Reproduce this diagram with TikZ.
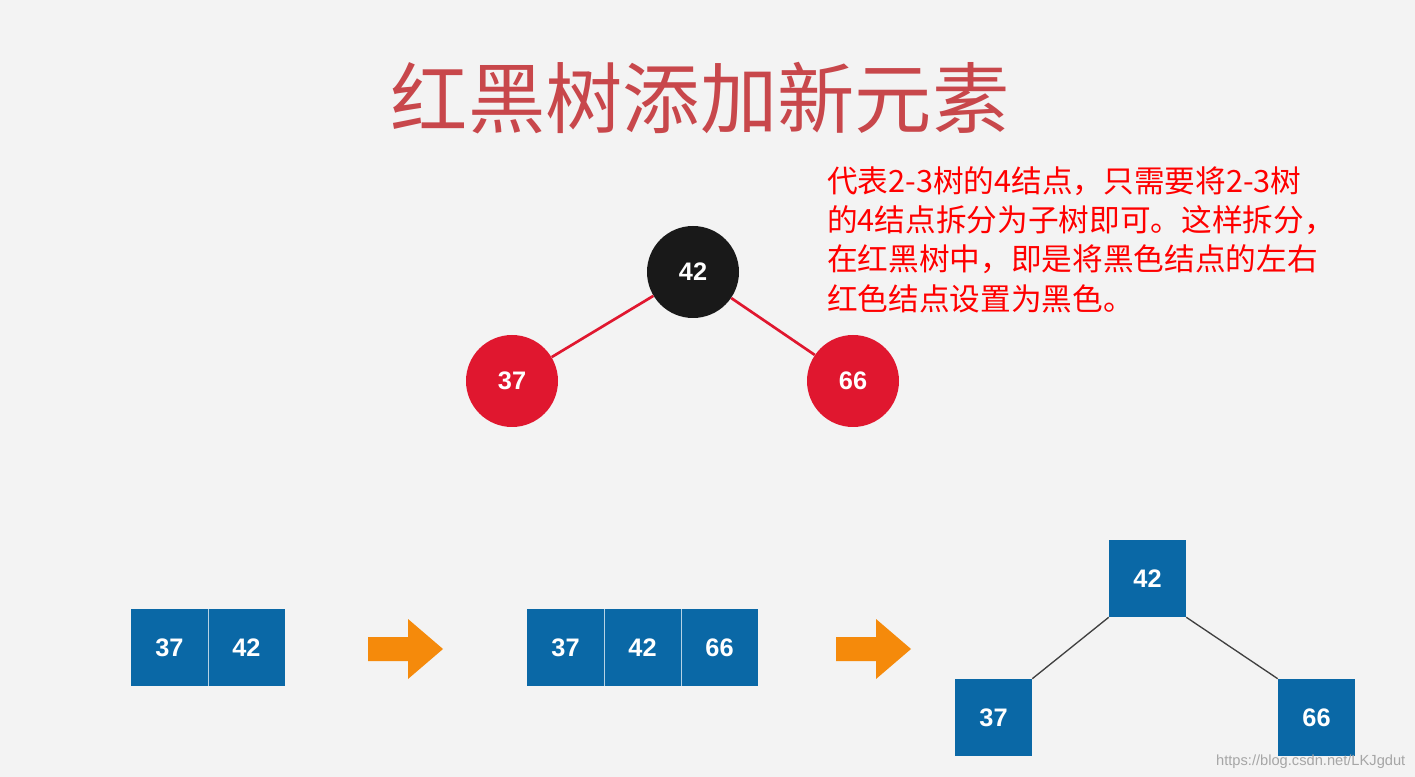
\documentclass[tikz,border=0pt]{standalone}
\usepackage{fontspec}
\setmainfont{Liberation Sans}
\newfontfamily\cjk{Noto Sans CJK SC}
\definecolor{bg}{HTML}{F3F3F3}
\definecolor{ttl}{HTML}{C8474B}
\definecolor{rb}{HTML}{E0172F}
\definecolor{bx}{HTML}{0A68A6}
\definecolor{org}{HTML}{F58A0B}
\tikzset{
 circ/.style={circle,minimum size=69pt,inner sep=0pt,text=white,font=\bfseries\fontsize{19}{19}\selectfont},
 blk/.style={fill=bx,minimum size=57.75pt,inner sep=0pt,text=white,font=\bfseries\fontsize{19}{19}\selectfont},
 arr/.style={fill=org,draw=none}
}
\begin{document}
\begin{tikzpicture}[x=0.75pt,y=-0.75pt]
\fill[bg] (0,0) rectangle (1415,777);
\useasboundingbox (0,0) rectangle (1415,777);
\node[text=ttl,font=\cjk\fontsize{58}{58}\selectfont] (title) at (700,98) {红黑树添加新元素};
\node[text=red,anchor=north west,align=left,font=\cjk\fontsize{23}{29.5}\selectfont,inner sep=0pt] (note) at (827,166) {代表2-3树的4结点，只需要将2-3树\\的4结点拆分为子树即可。这样拆分，\\在红黑树中，即是将黑色结点的左右\\红色结点设置为黑色。};
\node[circ,fill=black!90] (c42) at (693,272) {42};
\node[circ,fill=rb] (c37) at (512,381) {37};
\node[circ,fill=rb] (c66) at (853,381) {66};
\draw[rb,line width=2pt] (c42) -- (c37);
\draw[rb,line width=2pt] (c42) -- (c66);
\node[blk] (a37) at (169.5,647.5) {37};
\node[blk] (a42) at (246.5,647.5) {42};
\draw[white!70!bx,line width=0.6pt] (208,609) -- (208,686);
\node[blk] (b37) at (565.5,647.5) {37};
\node[blk] (b42) at (642.5,647.5) {42};
\node[blk] (b66) at (719.5,647.5) {66};
\draw[white!70!bx,line width=0.6pt] (604,609) -- (604,686) (681,609) -- (681,686);
\node[blk] (t42) at (1147.5,578.5) {42};
\node[blk] (t37) at (993.5,717.5) {37};
\node[blk] (t66) at (1316.5,717.5) {66};
\draw[black!75,line width=1pt] (t42.south west) -- (t37.north east);
\draw[black!75,line width=1pt] (t42.south east) -- (t66.north west);
\fill[arr] (368,637) -- (408,637) -- (408,619) -- (443,649) -- (408,679) -- (408,661) -- (368,661) -- cycle;
\fill[arr] (836,637) -- (876,637) -- (876,619) -- (911,649) -- (876,679) -- (876,661) -- (836,661) -- cycle;
\node[text=black!35,font=\fontsize{11}{11}\selectfont,anchor=east] (wm) at (1410,762) {https://blog.csdn.net/LKJgdut};
\end{tikzpicture}
\end{document}
